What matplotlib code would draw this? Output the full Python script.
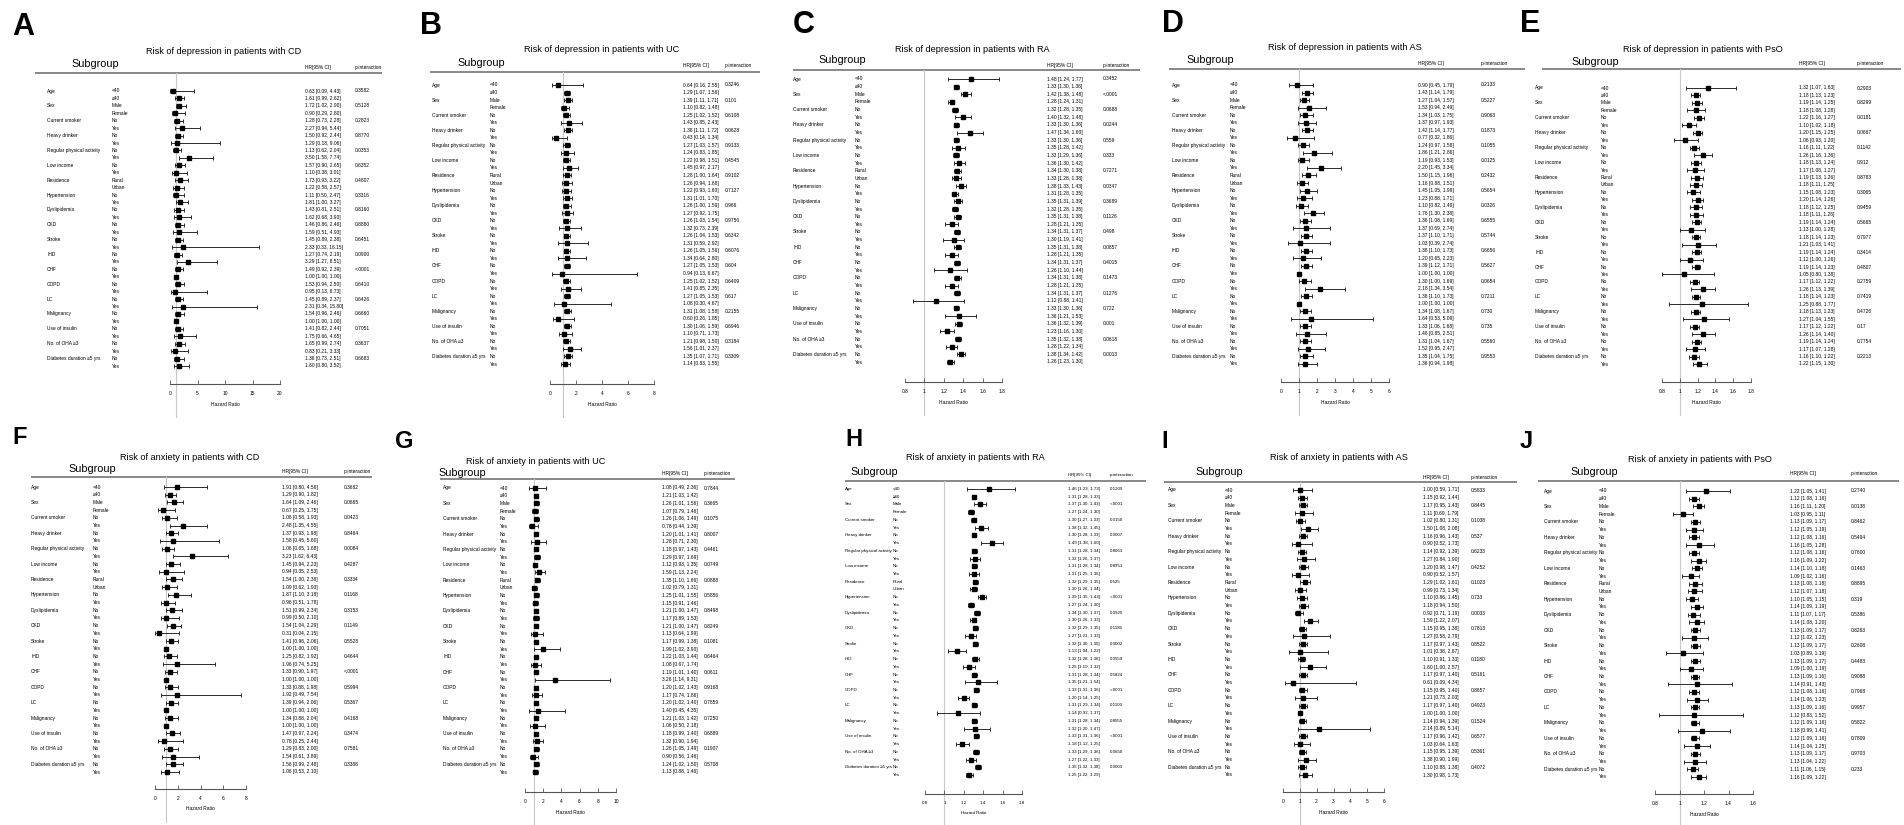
import matplotlib
matplotlib.use('Agg')
import matplotlib.pyplot as plt
import matplotlib.transforms as mtransforms
from matplotlib import font_manager

W, H = 1904, 825
plt.rcParams['font.family'] = ['Liberation Sans', 'DejaVu Sans']
installed = {f.name for f in font_manager.fontManager.ttflist}
if 'Liberation Sans Narrow' in installed:
    NARROW = ['Liberation Sans Narrow', 'Liberation Sans', 'DejaVu Sans']
    ROW_FS = 4.0
else:
    NARROW = ['Liberation Sans', 'DejaVu Sans']
    ROW_FS = 3.5

# subgroup names, two levels each
variables = ['Age', 'Sex', 'Current smoker', 'Heavy drinker', 'Regular physical activity',
             'Low income', 'Residence', 'Hypertension', 'Dyslipidemia', 'CKD', 'Stroke',
             'IHD', 'CHF', 'COPD', 'LC', 'Malignancy', 'Use of insulin',
             'No. of OHA \u22653', 'Diabetes duration \u22655 yrs']
levels = [['<40', '\u226540'], ['Male', 'Female']] + [['No', 'Yes']] * 4 + \
         [['Rural', 'Urban']] + [['No', 'Yes']] * 12

# ---- A: depression, CD
hr_A = [0.63, 1.61, 1.72, 0.90, 1.28, 2.27, 1.50, 1.29, 1.13, 3.50, 1.57, 1.10, 1.73, 1.22, 1.11, 1.81,
        1.43, 1.62, 1.46, 1.59, 1.45, 2.33, 1.27, 3.29, 1.49, 1.00, 1.53, 0.95, 1.45, 2.31, 1.54, 1.00,
        1.41, 1.75, 1.65, 0.83, 1.36, 1.60]
lo_A = [0.09, 0.99, 1.02, 0.29, 0.73, 0.94, 0.92, 0.18, 0.62, 1.58, 0.90, 0.38, 0.93, 0.58, 0.50, 1.00,
        0.81, 0.68, 0.86, 0.51, 0.89, 0.33, 0.74, 1.27, 0.92, 1.00, 0.94, 0.13, 0.89, 0.34, 0.96, 1.00,
        0.82, 0.66, 0.99, 0.21, 0.73, 0.80]
hi_A = [4.43, 2.62, 2.90, 2.80, 2.28, 5.44, 2.44, 9.06, 2.04, 7.74, 2.65, 3.01, 3.22, 2.57, 2.47, 3.27,
        2.51, 3.90, 2.46, 4.93, 2.38, 16.15, 2.19, 8.51, 2.39, 1.00, 2.50, 6.73, 2.37, 15.80, 2.46, 1.00,
        2.44, 4.65, 2.74, 3.33, 2.51, 3.52]
p_A = ['0.3582', '0.5128', '0.2823', '0.8770', '0.0353', '0.6352', '0.4807', '0.3316', '0.8160', '0.8880',
       '0.6451', '0.0900', '<.0001', '0.6410', '0.6426', '0.6660', '0.7051', '0.3637', '0.6683']

# ---- B: depression, UC
hr_B = [0.64, 1.29, 1.39, 1.10, 1.25, 1.43, 1.38, 0.43, 1.27, 1.24, 1.22, 1.45, 1.28, 1.26, 1.22, 1.31,
        1.26, 1.27, 1.26, 1.32, 1.26, 1.31, 1.26, 1.34, 1.27, 0.94, 1.25, 1.41, 1.27, 1.08, 1.31, 0.60,
        1.30, 1.10, 1.21, 1.56, 1.35, 1.14]
lo_B = [0.16, 1.07, 1.11, 0.82, 1.02, 0.85, 1.11, 0.14, 1.03, 0.83, 0.98, 0.97, 1.00, 0.94, 0.93, 1.01,
        1.00, 0.92, 1.03, 0.73, 1.04, 0.59, 1.05, 0.64, 1.05, 0.13, 1.02, 0.85, 1.05, 0.30, 1.08, 0.26,
        1.06, 0.71, 0.98, 1.01, 1.07, 0.83]
hi_B = [2.55, 1.56, 1.71, 1.48, 1.52, 2.43, 1.72, 1.34, 1.57, 1.85, 1.51, 2.17, 1.64, 1.68, 1.60, 1.70,
        1.59, 1.75, 1.54, 2.39, 1.53, 2.92, 1.56, 2.80, 1.53, 6.67, 1.52, 2.35, 1.53, 4.67, 1.58, 1.85,
        1.59, 1.73, 1.50, 2.37, 1.71, 1.55]
p_B = ['0.3246', '0.101', '0.6108', '0.0628', '0.9133', '0.4545', '0.9102', '0.7127', '0.966', '0.9756',
       '0.6342', '0.6076', '0.604', '0.6409', '0.617', '0.2155', '0.6946', '0.3184', '0.3309']

# ---- C: depression, RA
hr_C = [1.48, 1.33, 1.42, 1.28, 1.32, 1.40, 1.33, 1.47, 1.33, 1.35, 1.33, 1.36, 1.34, 1.33, 1.38, 1.31,
        1.35, 1.32, 1.35, 1.28, 1.34, 1.30, 1.35, 1.28, 1.34, 1.26, 1.34, 1.28, 1.34, 1.12, 1.33, 1.36,
        1.36, 1.23, 1.35, 1.28, 1.38, 1.26]
lo_C = [1.24, 1.30, 1.38, 1.24, 1.28, 1.32, 1.30, 1.34, 1.30, 1.28, 1.29, 1.30, 1.30, 1.28, 1.33, 1.28,
        1.31, 1.28, 1.31, 1.21, 1.31, 1.19, 1.31, 1.21, 1.31, 1.10, 1.31, 1.21, 1.31, 0.88, 1.30, 1.21,
        1.32, 1.16, 1.32, 1.22, 1.34, 1.23]
hi_C = [1.77, 1.36, 1.48, 1.31, 1.35, 1.48, 1.36, 1.60, 1.36, 1.42, 1.36, 1.42, 1.38, 1.38, 1.43, 1.35,
        1.39, 1.35, 1.38, 1.35, 1.37, 1.41, 1.38, 1.35, 1.37, 1.44, 1.38, 1.35, 1.37, 1.41, 1.36, 1.53,
        1.39, 1.30, 1.38, 1.34, 1.42, 1.30]
p_C = ['0.3452', '<.0001', '0.0688', '0.0244', '0.559', '0.333', '0.7271', '0.0347', '0.3689', '0.1126',
       '0.498', '0.0857', '0.4015', '0.1473', '0.1276', '0.722', '0.001', '0.0618', '0.0013']

# ---- D: depression, AS
hr_D = [0.90, 1.43, 1.27, 1.53, 1.34, 1.37, 1.42, 0.77, 1.24, 1.86, 1.19, 2.20, 1.50, 1.16, 1.45, 1.23,
        1.10, 1.76, 1.36, 1.37, 1.37, 1.03, 1.38, 1.20, 1.39, 1.00, 1.30, 2.18, 1.38, 1.00, 1.34, 1.64,
        1.33, 1.46, 1.31, 1.52, 1.35, 1.36]
lo_D = [0.45, 1.14, 1.04, 0.94, 1.03, 0.97, 1.14, 0.32, 0.97, 1.21, 0.93, 1.45, 1.15, 0.88, 1.05, 0.88,
        0.82, 1.30, 1.08, 0.69, 1.10, 0.39, 1.10, 0.65, 1.12, 1.00, 1.00, 1.34, 1.10, 1.00, 1.08, 0.53,
        1.06, 0.85, 1.04, 0.95, 1.04, 0.94]
hi_D = [1.79, 1.79, 1.57, 2.49, 1.75, 1.93, 1.77, 1.86, 1.58, 2.86, 1.53, 3.34, 1.96, 1.51, 1.99, 1.71,
        1.49, 2.38, 1.69, 2.74, 1.71, 2.74, 1.73, 2.23, 1.71, 1.00, 1.69, 3.54, 1.73, 1.00, 1.67, 5.09,
        1.68, 2.51, 1.67, 2.47, 1.75, 1.98]
p_D = ['0.2133', '0.5227', '0.9063', '0.1873', '0.1055', '0.0125', '0.2432', '0.5654', '0.0326', '0.6555',
       '0.5744', '0.6656', '0.5627', '0.0654', '0.7211', '0.730', '0.735', '0.5560', '0.9553']

# ---- E: depression, PsO
hr_E = [1.32, 1.18, 1.19, 1.18, 1.22, 1.10, 1.20, 1.06, 1.16, 1.26, 1.18, 1.17, 1.19, 1.18, 1.15, 1.20,
        1.18, 1.18, 1.19, 1.13, 1.18, 1.21, 1.19, 1.12, 1.19, 1.05, 1.17, 1.26, 1.18, 1.25, 1.18, 1.27,
        1.17, 1.26, 1.19, 1.17, 1.16, 1.22]
lo_E = [1.07, 1.13, 1.14, 1.08, 1.16, 1.02, 1.15, 0.93, 1.11, 1.16, 1.13, 1.08, 1.13, 1.11, 1.08, 1.14,
        1.12, 1.11, 1.14, 1.00, 1.14, 1.03, 1.14, 1.00, 1.14, 0.80, 1.12, 1.13, 1.14, 0.88, 1.13, 1.04,
        1.12, 1.14, 1.14, 1.07, 1.10, 1.15]
hi_E = [1.63, 1.23, 1.25, 1.28, 1.27, 1.18, 1.25, 1.20, 1.22, 1.36, 1.24, 1.27, 1.26, 1.25, 1.23, 1.26,
        1.25, 1.26, 1.24, 1.28, 1.23, 1.41, 1.24, 1.26, 1.23, 1.38, 1.22, 1.39, 1.23, 1.77, 1.23, 1.55,
        1.22, 1.40, 1.24, 1.28, 1.22, 1.30]
p_E = ['0.2903', '0.8299', '0.0181', '0.0667', '0.1142', '0.912', '0.8783', '0.3065', '0.9459', '0.5665',
       '0.7977', '0.3414', '0.4807', '0.2759', '0.7419', '0.4726', '0.17', '0.7754', '0.2213']

# ---- F: anxiety, CD
hr_F = [1.91, 1.29, 1.64, 0.67, 1.06, 2.48, 1.37, 1.58, 1.06, 3.23, 1.45, 0.94, 1.54, 1.09, 1.87, 0.96,
        1.51, 0.99, 1.54, 0.31, 1.41, 1.00, 1.25, 1.96, 1.33, 1.00, 1.33, 1.92, 1.39, 1.00, 1.34, 1.00,
        1.47, 0.78, 1.29, 1.54, 1.56, 1.06]
lo_F = [0.80, 0.90, 1.09, 0.25, 0.58, 1.35, 0.93, 0.45, 0.65, 1.62, 0.94, 0.35, 1.00, 0.62, 1.10, 0.51,
        0.99, 0.50, 1.04, 0.04, 0.96, 1.00, 0.82, 0.74, 0.90, 1.00, 0.88, 0.49, 0.94, 1.00, 0.88, 1.00,
        0.97, 0.25, 0.83, 0.61, 0.99, 0.53]
hi_F = [4.56, 1.82, 2.46, 1.75, 1.93, 4.55, 1.98, 5.60, 1.68, 6.43, 2.23, 2.53, 2.38, 1.93, 3.18, 1.78,
        2.34, 2.10, 2.29, 2.15, 2.06, 1.00, 1.92, 5.25, 1.97, 1.00, 1.98, 7.54, 2.06, 1.00, 2.04, 1.00,
        2.24, 2.44, 2.00, 3.89, 2.48, 2.10]
p_F = ['0.3682', '0.0665', '0.0423', '0.8464', '0.0084', '0.4287', '0.3334', '0.1168', '0.3153', '0.1149',
       '0.5528', '0.4644', '<.0001', '0.5994', '0.5367', '0.4168', '0.3474', '0.7581', '0.3388']

# ---- G: anxiety, UC
hr_G = [1.08, 1.21, 1.26, 1.07, 1.26, 0.78, 1.20, 1.28, 1.18, 1.29, 1.12, 1.59, 1.35, 1.02, 1.25, 1.15,
        1.21, 1.17, 1.21, 1.13, 1.17, 1.99, 1.22, 1.08, 1.19, 3.26, 1.20, 1.17, 1.20, 1.40, 1.21, 1.06,
        1.18, 1.32, 1.26, 0.90, 1.24, 1.13]
lo_G = [0.49, 1.03, 1.01, 0.79, 1.06, 0.44, 1.01, 0.71, 0.97, 0.97, 0.93, 1.13, 1.10, 0.79, 1.01, 0.91,
        1.00, 0.89, 1.00, 0.64, 0.99, 1.02, 1.03, 0.67, 1.01, 1.14, 1.02, 0.74, 1.02, 0.45, 1.03, 0.50,
        0.99, 0.90, 1.05, 0.56, 1.02, 0.88]
hi_G = [2.36, 1.42, 1.56, 1.46, 1.49, 1.39, 1.41, 2.30, 1.43, 1.69, 1.35, 2.24, 1.66, 1.31, 1.55, 1.46,
        1.47, 1.53, 1.47, 1.99, 1.38, 3.90, 1.44, 1.74, 1.40, 9.31, 1.43, 1.86, 1.40, 4.35, 1.42, 2.18,
        1.40, 1.94, 1.49, 1.46, 1.50, 1.46]
p_G = ['0.7844', '0.3665', '0.1075', '0.8007', '0.4461', '0.0749', '0.0888', '0.5856', '0.8498', '0.8249',
       '0.1081', '0.6464', '0.0611', '0.9168', '0.7859', '0.7250', '0.6889', '0.1907', '0.5708']

# ---- H: anxiety, RA
hr_H = [1.46, 1.31, 1.37, 1.27, 1.30, 1.38, 1.30, 1.49, 1.31, 1.32, 1.31, 1.31, 1.32, 1.30, 1.39, 1.27,
        1.34, 1.30, 1.32, 1.27, 1.32, 1.13, 1.32, 1.25, 1.31, 1.35, 1.33, 1.20, 1.31, 1.14, 1.31, 1.32,
        1.33, 1.18, 1.33, 1.27, 1.35, 1.25]
lo_H = [1.23, 1.28, 1.30, 1.24, 1.27, 1.32, 1.28, 1.38, 1.28, 1.26, 1.28, 1.25, 1.29, 1.26, 1.35, 1.24,
        1.30, 1.26, 1.29, 1.21, 1.30, 1.04, 1.28, 1.19, 1.28, 1.21, 1.31, 1.14, 1.29, 0.92, 1.28, 1.20,
        1.31, 1.12, 1.29, 1.22, 1.32, 1.22]
hi_H = [1.73, 1.33, 1.43, 1.30, 1.33, 1.45, 1.33, 1.60, 1.34, 1.37, 1.34, 1.36, 1.35, 1.34, 1.43, 1.30,
        1.37, 1.33, 1.35, 1.33, 1.35, 1.22, 1.36, 1.32, 1.34, 1.54, 1.36, 1.25, 1.34, 1.37, 1.34, 1.47,
        1.36, 1.25, 1.36, 1.33, 1.38, 1.29]
p_H = ['0.1209', '<.0001', '0.0150', '0.0007', '0.8063', '0.8951', '0.525', '<.0001', '0.0925', '0.1185',
       '0.0002', '0.0559', '0.5824', '<.0001', '0.1103', '0.8555', '<.0001', '0.0650', '0.0003']

# ---- I: anxiety, AS
hr_I = [1.00, 1.15, 1.17, 1.11, 1.02, 1.50, 1.16, 0.90, 1.14, 1.27, 1.20, 0.90, 1.29, 0.99, 1.10, 1.18,
        0.92, 1.59, 1.15, 1.27, 1.17, 1.01, 1.10, 1.60, 1.17, 0.61, 1.15, 1.21, 1.17, 1.00, 1.14, 2.14,
        1.17, 1.03, 1.15, 1.38, 1.10, 1.30]
lo_I = [0.59, 0.92, 0.95, 0.69, 0.80, 1.08, 0.96, 0.52, 0.92, 0.84, 0.98, 0.52, 1.02, 0.73, 0.86, 0.94,
        0.71, 1.22, 0.95, 0.58, 0.97, 0.38, 0.91, 1.00, 0.97, 0.09, 0.95, 0.73, 0.97, 1.00, 0.94, 0.89,
        0.96, 0.64, 0.95, 0.90, 0.88, 0.98]
hi_I = [1.71, 1.44, 1.43, 1.79, 1.31, 2.08, 1.43, 1.73, 1.39, 1.90, 1.47, 1.57, 1.61, 1.34, 1.45, 1.50,
        1.19, 2.07, 1.38, 2.79, 1.43, 2.67, 1.33, 2.57, 1.40, 4.34, 1.40, 2.03, 1.40, 1.00, 1.39, 5.14,
        1.42, 1.63, 1.39, 1.99, 1.38, 1.73]
p_I = ['0.5833', '0.8445', '0.1038', '0.537', '0.6233', '0.4252', '0.1023', '0.733', '0.0033', '0.7813',
       '0.8522', '0.1180', '0.5161', '0.8657', '0.4923', '0.1524', '0.6577', '0.5361', '0.4072']

# ---- J: anxiety, PsO
hr_J = [1.22, 1.12, 1.16, 1.03, 1.13, 1.12, 1.12, 1.16, 1.12, 1.16, 1.14, 1.09, 1.13, 1.12, 1.10, 1.14,
        1.11, 1.14, 1.13, 1.12, 1.13, 1.03, 1.13, 1.09, 1.13, 1.14, 1.12, 1.14, 1.13, 1.12, 1.12, 1.18,
        1.12, 1.14, 1.13, 1.13, 1.11, 1.16]
lo_J = [1.05, 1.08, 1.11, 0.95, 1.09, 1.05, 1.08, 1.05, 1.08, 1.09, 1.10, 1.02, 1.08, 1.07, 1.05, 1.09,
        1.07, 1.08, 1.09, 1.02, 1.09, 0.89, 1.09, 1.00, 1.09, 0.91, 1.08, 1.06, 1.09, 0.83, 1.09, 0.99,
        1.09, 1.04, 1.09, 1.04, 1.06, 1.09]
hi_J = [1.41, 1.16, 1.20, 1.11, 1.17, 1.19, 1.16, 1.28, 1.16, 1.22, 1.18, 1.16, 1.18, 1.18, 1.15, 1.19,
        1.17, 1.20, 1.17, 1.23, 1.17, 1.19, 1.17, 1.19, 1.16, 1.43, 1.16, 1.23, 1.16, 1.52, 1.16, 1.41,
        1.16, 1.25, 1.17, 1.22, 1.15, 1.22]
p_J = ['0.2740', '0.0138', '0.8462', '0.5494', '0.7600', '0.1463', '0.8895', '0.319', '0.5386', '0.8263',
       '0.2608', '0.4483', '0.9088', '0.7968', '0.9957', '0.5822', '0.7809', '0.9703', '0.233']

titles = {
    'A': 'Risk of depression in patients with CD', 'B': 'Risk of depression in patients with UC',
    'C': 'Risk of depression in patients with RA', 'D': 'Risk of depression in patients with AS',
    'E': 'Risk of depression in patients with PsO', 'F': 'Risk of anxiety in patients with CD',
    'G': 'Risk of anxiety in patients with UC', 'H': 'Risk of anxiety in patients with RA',
    'I': 'Risk of anxiety in patients with AS', 'J': 'Risk of anxiety in patients with PsO',
}
data = {'A': (hr_A, lo_A, hi_A, p_A), 'B': (hr_B, lo_B, hi_B, p_B), 'C': (hr_C, lo_C, hi_C, p_C),
        'D': (hr_D, lo_D, hi_D, p_D), 'E': (hr_E, lo_E, hi_E, p_E), 'F': (hr_F, lo_F, hi_F, p_F),
        'G': (hr_G, lo_G, hi_G, p_G), 'H': (hr_H, lo_H, hi_H, p_H), 'I': (hr_I, lo_I, hi_I, p_I),
        'J': (hr_J, lo_J, hi_J, p_J)}
axis_range = {'A': (0, 20, 5), 'B': (0, 8, 2), 'C': (0.8, 1.8, 0.2), 'D': (0, 6, 1), 'E': (0.8, 1.8, 0.2),
              'F': (0, 8, 2), 'G': (0, 10, 2), 'H': (0.8, 1.8, 0.2), 'I': (0, 6, 1), 'J': (0.8, 1.6, 0.2)}

# layout in pixels: letter, title, subgroup header, header row y, header line, columns, forest span, rows, axis
layout = {
    'A': dict(let=(12, 27), tit=(224, 52), sub=(95, 64), hy=67, line=(35, 382, 73), var=47, lev=112,
              fx=(170, 280), r=(91, 366), ay=384, hrx=305, px=355),
    'B': dict(let=(420, 26), tit=(602, 49), sub=(481, 63), hy=66, line=(430, 760, 72), var=432, lev=490,
              fx=(550, 654), r=(85, 364), ay=384, hrx=683, px=725),
    'C': dict(let=(793, 25), tit=(972, 50), sub=(842, 60), hy=66, line=(793, 1140, 70), var=793, lev=855,
              fx=(905, 1002), r=(79, 362), ay=382, hrx=1047, px=1103),
    'D': dict(let=(1162, 24), tit=(1345, 48), sub=(1210, 60), hy=63, line=(1169, 1525, 69), var=1172, lev=1230,
              fx=(1281, 1389), r=(85, 364), ay=382, hrx=1418, px=1481),
    'E': dict(let=(1520, 24), tit=(1703, 50), sub=(1595, 62), hy=64, line=(1542, 1901, 69), var=1535, lev=1601,
              fx=(1662, 1751), r=(88, 364), ay=382, hrx=1799, px=1857),
    'F': dict(let=(12, 438), tit=(190, 457), sub=(92, 469), hy=472, line=(31, 372, 477), var=31, lev=93,
              fx=(155, 246), r=(487, 772), ay=789, hrx=282, px=344),
    'G': dict(let=(395, 441), tit=(536, 461), sub=(462, 473), hy=474, line=(440, 735, 479), var=443, lev=500,
              fx=(525, 616), r=(488, 772), ay=792, hrx=662, px=704),
    'H': dict(let=(845, 439), tit=(975, 458), sub=(874, 472), hy=475, line=(845, 1146, 481), var=845, lev=893,
              fx=(925, 1022), r=(489, 775), ay=794, hrx=1068, px=1110),
    'I': dict(let=(1161, 441), tit=(1339, 458), sub=(1219, 472), hy=477, line=(1164, 1517, 482), var=1168,
              lev=1225, fx=(1283, 1384), r=(490, 775), ay=792, hrx=1423, px=1471),
    'J': dict(let=(1520, 442), tit=(1700, 460), sub=(1594, 472), hy=474, line=(1538, 1899, 481), var=1544,
              lev=1599, fx=(1655, 1753), r=(491, 777), ay=794, hrx=1790, px=1851),
}
font_scale = {'H': 0.9}

fig = plt.figure(figsize=(W / 100, H / 100), dpi=100)
base = fig.add_axes([0, 0, 1, 1])
base.set_xlim(0, W)
base.set_ylim(H, 0)
base.axis('off')


def draw_panel(key):
    hr, lo, hi, pv = data[key]
    lay = layout[key]
    fs = ROW_FS * font_scale.get(key, 1.0)
    bottom_row = key in 'FGHIJ'
    n = len(hr)
    r0, r1 = lay['r']
    k = (r1 - r0) / (n - 1)
    ly = lay['line'][2]
    ay = lay['ay']
    fx0, fx1 = lay['fx']

    # panel letter, title, headers
    if bottom_row:
        base.text(*lay['let'], key, fontsize=17, fontweight='bold', family=NARROW, ha='left', va='center')
    else:
        base.text(*lay['let'], key, fontsize=22, fontweight='bold', ha='left', va='center')
    base.text(*lay['tit'], titles[key], fontsize=6.6, ha='center', va='center')
    base.text(*lay['sub'], 'Subgroup', fontsize=7.8, ha='center', va='center')
    base.text(lay['hrx'], lay['hy'], 'HR[95% CI]', fontsize=fs, family=NARROW, va='center')
    base.text(lay['px'], lay['hy'], 'p-interaction', fontsize=fs, family=NARROW, va='center')
    x0, x1, _ = lay['line']
    base.plot([x0, x1], [ly, ly], color='#7f7f7f', lw=1.3, solid_capstyle='butt')

    # forest axes
    fax = fig.add_axes([fx0 / W, 1 - ay / H, (fx1 - fx0) / W, (ay - ly) / H])
    y_top = -(r0 - ly) / k
    y_bot = (n - 1) + (ay - r1) / k
    fax.set_ylim(y_bot, y_top)
    xmin, xmax, step = axis_range[key]
    fax.set_xlim(xmin, xmax)
    ticks = []
    t = xmin
    while t <= xmax + 1e-9:
        ticks.append(round(t, 2))
        t += step
    fax.set_xticks(ticks)
    fax.set_xticklabels(['%g' % v for v in ticks], family=NARROW)
    fax.set_yticks([])
    fax.patch.set_visible(False)
    for s in ['top', 'right', 'left']:
        fax.spines[s].set_visible(False)
    fax.spines['bottom'].set_color('#555555')
    fax.spines['bottom'].set_linewidth(0.8)
    fax.tick_params(axis='x', direction='in', length=3, width=0.6, color='#555555',
                    labelsize=fs, pad=5)
    fax.set_xlabel('Hazard Ratio', fontsize=fs, family=NARROW, labelpad=4)

    # reference line at HR = 1
    fax.plot([1, 1], [y_top, y_bot + 33 / k], color='#c8c8c8', lw=0.8, clip_on=False, zorder=0)

    for i in range(n):
        err = [[hr[i] - lo[i]], [hi[i] - hr[i]]]
        fax.errorbar(hr[i], i, xerr=err, fmt='s', ms=2.6, color='black', ecolor='#2a2a2a',
                     elinewidth=0.7, capsize=1.4, capthick=0.7, clip_on=False)

    # text columns share the forest row scale
    trans = mtransforms.blended_transform_factory(base.transData, fax.transData)
    for j, var in enumerate(variables):
        i = 2 * j
        base.text(lay['var'], i, var, transform=trans, fontsize=fs, family=NARROW, va='center')
        base.text(lay['px'], i, pv[j], transform=trans, fontsize=fs, family=NARROW, va='center')
        for m in range(2):
            base.text(lay['lev'], i + m, levels[j][m], transform=trans, fontsize=fs,
                      family=NARROW, va='center')
    for i in range(n):
        base.text(lay['hrx'], i, '%.2f [%.2f, %.2f]' % (hr[i], lo[i], hi[i]), transform=trans,
                  fontsize=fs, family=NARROW, va='center')


for key in 'ABCDEFGHIJ':
    draw_panel(key)

fig.savefig('out.png', dpi=100)
